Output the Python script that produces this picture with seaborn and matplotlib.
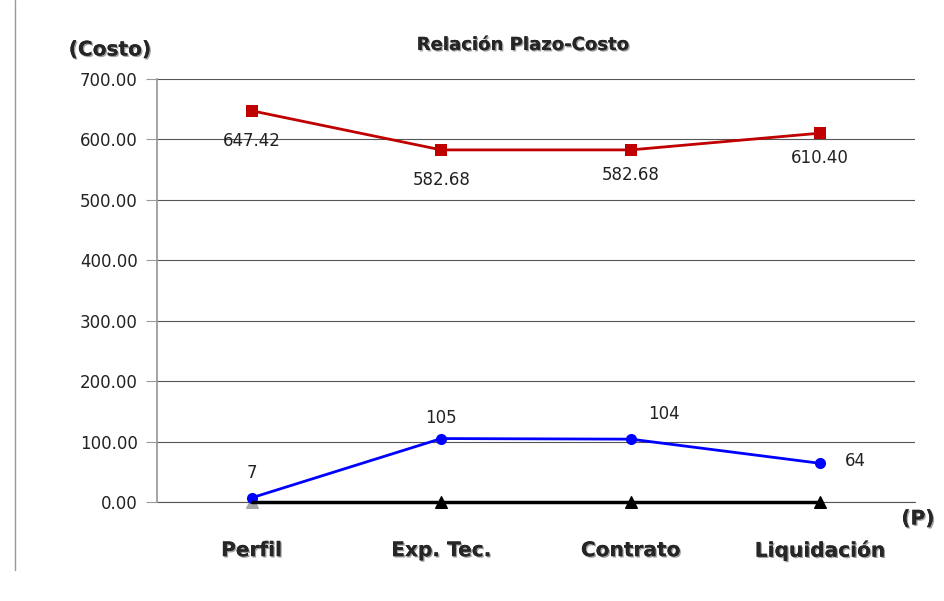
import numpy as np
import pandas as pd
import seaborn as sns
import matplotlib.pyplot as plt
import matplotlib.patheffects as pe

etapas = ['Perfil', 'Exp. Tec.', 'Contrato', 'Liquidación']
costo = [647.42, 582.68, 582.68, 610.40]
plazo = [7, 105, 104, 64]
base = [0, 0, 0, 0]

costo_lbl = ['647.42', '582.68', '582.68', '610.40']
plazo_lbl = ['7', '105', '104', '64']

sns.set_theme(style='white')
plt.rcParams['font.family'] = ['DejaVu Sans']

fig = plt.figure(figsize=(9.45, 6.01), dpi=100)
ax = fig.add_axes([157/945, 1 - 502/601, (915 - 157)/945, (502 - 79)/601])

df = pd.DataFrame({'x': range(4), 'costo': costo, 'plazo': plazo, 'base': base})

ax.axhline(0, color='#555555', lw=0.8, clip_on=False, zorder=1)
sns.lineplot(data=df, x='x', y='costo', ax=ax, color='#c00000', lw=2,
             marker='s', markersize=8, markeredgewidth=0)
sns.lineplot(data=df, x='x', y='plazo', ax=ax, color='#0000ff', lw=2,
             marker='o', markersize=8, markeredgewidth=0, clip_on=False)
sns.lineplot(data=df, x='x', y='base', ax=ax, color='black', lw=2.5, clip_on=False)
ax.scatter(df['x'][1:], df['base'][1:], marker='^', s=70, color='black', zorder=5, clip_on=False)
ax.scatter(df['x'][:1], df['base'][:1], marker='^', s=70, color='#a6a6a6', zorder=1.5, clip_on=False)

# etiquetas de datos
offs_c = [(0, -22), (0, -22), (0, -18), (0, -18)]
for i, (v, t) in enumerate(zip(costo, costo_lbl)):
    ax.annotate(t, (i, v), xytext=offs_c[i], textcoords='offset points',
                ha='center', va='center', fontsize=12, color='#222222')
offs_p = [(0, 18), (0, 15), (24, 18), (25, 2)]
for i, (v, t) in enumerate(zip(plazo, plazo_lbl)):
    ax.annotate(t, (i, v), xytext=offs_p[i], textcoords='offset points',
                ha='center', va='center', fontsize=12, color='#222222')

ax.set_xlim(-0.5, 3.5)
ax.set_ylim(0, 700)
ax.set_yticks(np.arange(0, 701, 100))
ax.set_yticklabels([f'{v:.2f}' for v in np.arange(0, 701, 100)], fontsize=12, color='#222222')
ax.set_xticks([])
ax.set_xlabel('')
ax.set_ylabel('')
ax.grid(axis='y', color='#555555', lw=0.8)
ax.set_axisbelow(True)
for s in ['top', 'right', 'bottom']:
    ax.spines[s].set_visible(False)
ax.spines['left'].set_color('#999999')
ax.tick_params(axis='y', length=8, width=0.8, color='#999999', left=True, pad=6)

sombra = [pe.withSimplePatchShadow(offset=(1, -1), shadow_rgbFace='#888888', alpha=0.8), pe.Normal()]
trans = ax.get_xaxis_transform()
for i, e in enumerate(etapas):
    ax.text(i, -0.115, e, transform=trans, ha='center', va='center',
            fontsize=14.5, fontweight='bold', path_effects=sombra)

fig.text(522/945, 1 - 45/601, 'Relación Plazo-Costo', ha='center', va='center',
         fontsize=13, fontweight='bold', path_effects=sombra)
fig.text(110/945, 1 - 50/601, '(Costo)', ha='center', va='center',
         fontsize=14.5, fontweight='bold', path_effects=sombra)
fig.text(918/945, 1 - 519/601, '(P)', ha='center', va='center',
         fontsize=14.5, fontweight='bold', path_effects=sombra)

# borde del gráfico
fig.add_artist(plt.Line2D([15/945, 15/945], [1 - 570/601, 1.0], color='#999999', lw=1))

fig.savefig('out.png', dpi=100)
